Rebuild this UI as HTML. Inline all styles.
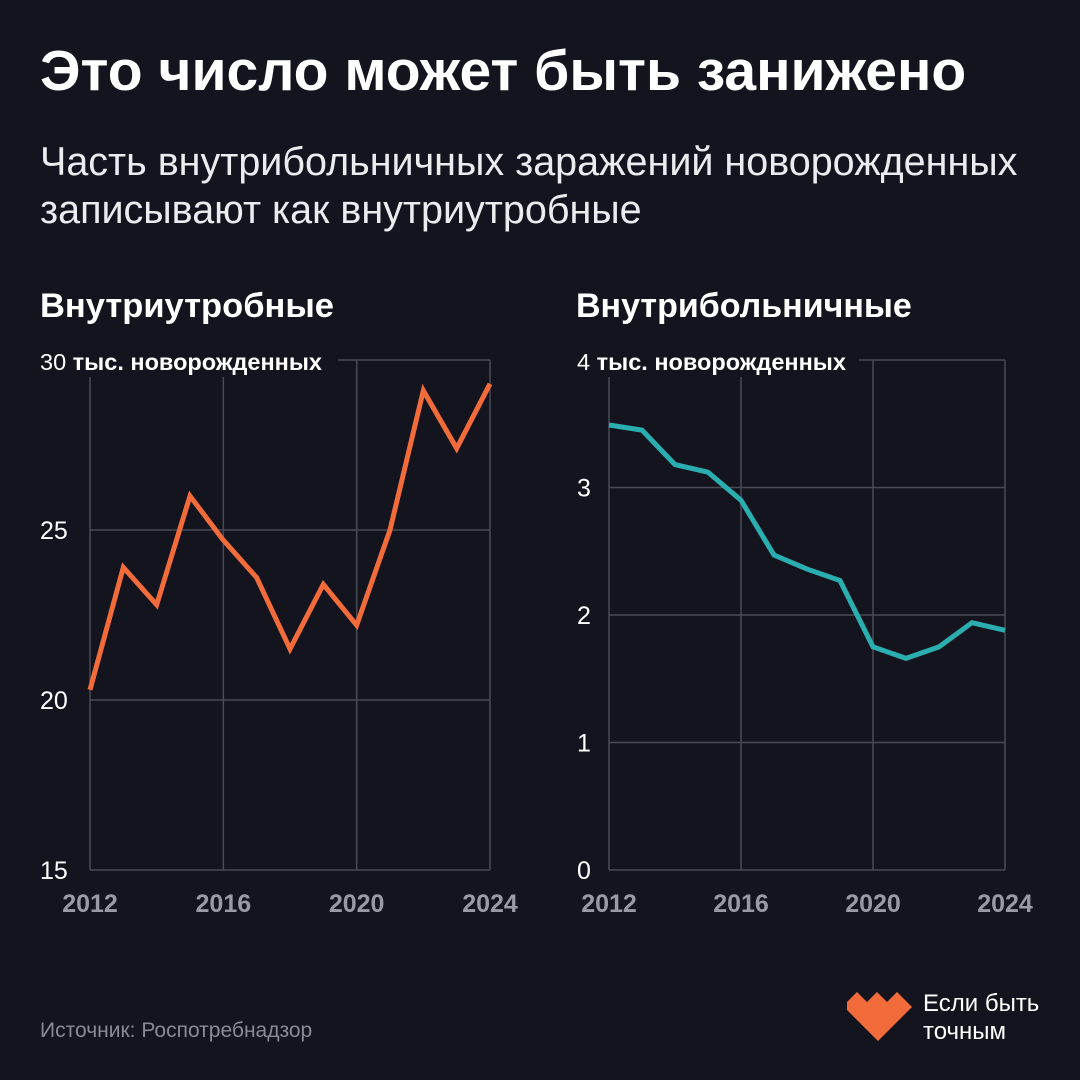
<!DOCTYPE html>
<html><head><meta charset="utf-8"><style>
html,body{margin:0;padding:0;background:#14141e;}
body{width:1080px;height:1080px;position:relative;overflow:hidden;font-family:"Liberation Sans","DejaVu Sans",sans-serif;color:#fff;}
.t{position:absolute;white-space:nowrap;}
</style></head><body>
<div class="t" style="left:40px;top:38px;font-size:57px;font-weight:bold;">Это число может быть занижено</div>
<div class="t" style="left:40px;top:138px;font-size:39.5px;line-height:48px;color:#ececf0;">Часть внутрибольничных заражений новорожденных<br>записывают как внутриутробные</div>
<div class="t" style="left:40px;top:287px;font-size:34.5px;font-weight:bold;">Внутриутробные</div>
<div class="t" style="left:576px;top:287px;font-size:34px;font-weight:bold;">Внутрибольничные</div>
<svg id="chart" width="1080" height="1080" style="position:absolute;left:0;top:0"></svg>
<div class="t" style="left:40px;top:1019px;font-size:21px;color:#8a8a96;">Источник: Роспотребнадзор</div>
<svg width="70" height="50" style="position:absolute;left:845px;top:992px">
<polygon points="2,10 12,0 22,10 32,0 42,10 52,0 67,15 33,49 2,18" fill="#f26b3a"/></svg>
<div class="t" style="left:923px;top:990px;font-size:24px;line-height:28px;">Если быть<br>точным</div>
<script>
const years=[2012,2013,2014,2015,2016,2017,2018,2019,2020,2021,2022,2023,2024];
const leftValues=[20.3,23.9,22.8,26.0,24.7,23.6,21.5,23.4,22.2,25.0,29.1,27.4,29.3];
const rightValues=[3.49,3.45,3.18,3.12,2.90,2.47,2.36,2.27,1.75,1.66,1.75,1.94,1.88];
const leftTicks=[15,20,25,30];
const rightTicks=[0,1,2,3,4];
const xTicks=[2012,2016,2020,2024];
const svg=document.getElementById('chart');
const NS='http://www.w3.org/2000/svg';
function mk(tag,attrs){const e=document.createElementNS(NS,tag);for(const k in attrs)e.setAttribute(k,attrs[k]);svg.appendChild(e);return e;}
function draw(cfg){
 const x=v=>cfg.x0+(v-2012)/(2024-2012)*(cfg.x1-cfg.x0);
 const y=v=>870-(v-cfg.min)/(cfg.max-cfg.min)*(870-360);
 cfg.ticks.forEach((t,i)=>{
  const l=mk('line',{x1:cfg.x0,x2:cfg.x1,y1:y(t),y2:y(t),stroke:'#4a4a56','stroke-width':1.5});
  
  
  if(i<cfg.ticks.length-1){
   const tx=mk('text',{x:cfg.lx,y:y(t)+9,fill:'#fff','font-size':25,'font-family':'Liberation Sans, sans-serif'});
   tx.textContent=t;
   
   
  }
 });
 xTicks.forEach(t=>{
  const l=mk('line',{x1:x(t),x2:x(t),y1:360,y2:870,stroke:'#4a4a56','stroke-width':1.5});
  
  
  const tx=mk('text',{x:x(t),y:912,fill:'#9a9aa6','font-size':25,'font-weight':'bold','text-anchor':'middle','font-family':'Liberation Sans, sans-serif'});
  tx.textContent=t;
  
  
 });
 const bg=mk('rect',{x:cfg.lx-4,y:345,width:cfg.unitW,height:32,fill:'#14141e'});
 
 
 const u=mk('text',{x:cfg.lx,y:370,fill:'#fff','font-size':23.5,'font-family':'Liberation Sans, sans-serif'});
 u.innerHTML=cfg.ticks[cfg.ticks.length-1]+' <tspan font-weight="bold">тыс. новорожденных</tspan>';
 
 
 const pts=years.map((yr,i)=>x(yr)+','+y(cfg.vals[i])).join(' ');
 const pl=mk('polyline',{points:pts,fill:'none',stroke:cfg.color,'stroke-width':5,'stroke-linejoin':'miter'});
 
 
}
draw({p:'left',x0:90,x1:490,min:15,max:30,ticks:leftTicks,vals:leftValues,color:'#f26b3a',lx:40,unitW:302});
draw({p:'right',x0:609,x1:1005,min:0,max:4,ticks:rightTicks,vals:rightValues,color:'#2aaeb0',lx:577,unitW:286});
</script>
</body></html>
